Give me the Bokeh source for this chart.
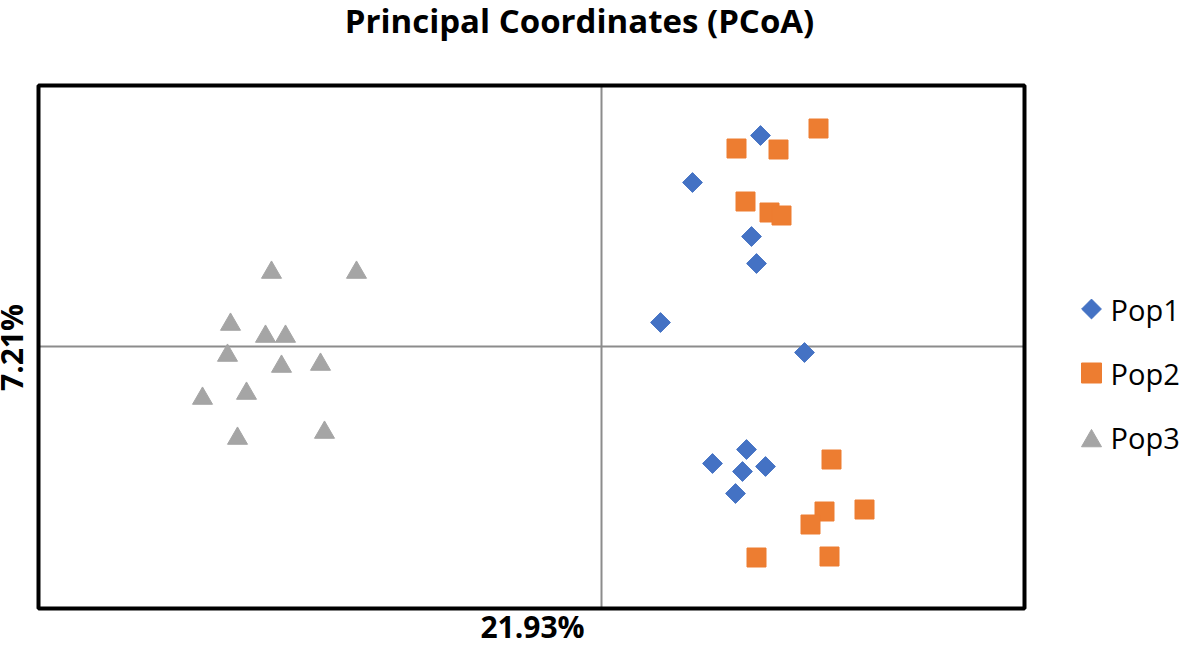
import math
from bokeh.plotting import figure
from bokeh.models import Range1d, Label
from bokeh.core.properties import value
from bokeh.embed import file_html
from bokeh.resources import INLINE

# PCoA coordinates (axis 1: 21.93 %, axis 2: 7.21 %)
pop1_x = [1.59, 0.91, 1.50, 1.55, 0.59, 2.03, 1.11, 1.45, 1.41, 1.64, 1.34]
pop1_y = [2.11, 1.64, 1.10, 0.83, 0.24, -0.06, -1.17, -1.03, -1.25, -1.20, -1.47]

pop2_x = [2.17, 1.35, 1.77, 1.44, 1.68, 1.80, 2.30, 2.23, 2.63, 2.09, 1.55, 2.28]
pop2_y = [2.18, 1.98, 1.97, 1.45, 1.34, 1.31, -1.13, -1.65, -1.63, -1.78, -2.11, -2.10]

pop3_x = [-3.30, -2.45, -3.71, -3.36, -3.16, -3.74, -3.20, -2.81, -3.99, -3.55, -3.64, -2.77]
pop3_y = [0.74, 0.74, 0.22, 0.10, 0.10, -0.09, -0.20, -0.18, -0.52, -0.47, -0.92, -0.86]

# plot-area limits of the chart
x_min, x_max = -5.63, 4.23
y_min, y_max = -2.62, 2.61

series_names = ["Pop1", "Pop2", "Pop3"]
title_text = "Principal Coordinates (PCoA)"
x_label = "21.93%"
y_label = "7.21%"

FONT = "Open Sans"
BLUE, ORANGE, GRAY = "#4472C4", "#ED7D31", "#A5A5A5"
W, H = 1181, 648

p = figure(width=W, height=H, output_backend="svg", toolbar_location=None,
           x_range=Range1d(-6.01, -6.01 + W / 100), y_range=Range1d(3.46 - H / 100, 3.46),
           x_axis_location=None, y_axis_location=None,
           min_border=0, min_border_left=0, min_border_right=0,
           min_border_top=0, min_border_bottom=0)
p.title.visible = False
p.xgrid.visible = False
p.ygrid.visible = False
p.outline_line_color = None
p.background_fill_color = "white"
p.border_fill_color = "white"

# axes through the origin
p.segment(x0=[0, x_min], y0=[y_min, 0], x1=[0, x_max], y1=[y_max, 0],
          line_color="#8c8c8c", line_width=2)
# plot-area border
p.quad(left=[x_min], right=[x_max], bottom=[y_min], top=[y_max],
       fill_color=None, line_color="black", line_width=4)

p.scatter(pop1_x, pop1_y, marker="square", size=14, angle=math.pi / 4,
          fill_color=BLUE, line_color=BLUE)
p.scatter(pop2_x, pop2_y, marker="square", size=19,
          fill_color=ORANGE, line_color=ORANGE)
p.scatter(pop3_x, pop3_y, marker="triangle", size=20,
          fill_color=GRAY, line_color=GRAY)

# legend (right of the plot area): symbol column and label column
leg_sym_x = 4.90
leg_txt_x = 5.09
leg_rows = [0.375, -0.265, -0.91]
p.scatter([leg_sym_x], [leg_rows[0]], marker="square", size=14, angle=math.pi / 4,
          fill_color=BLUE, line_color=BLUE)
p.scatter([leg_sym_x], [leg_rows[1]], marker="square", size=20,
          fill_color=ORANGE, line_color=ORANGE)
p.scatter([leg_sym_x], [leg_rows[2] - 0.035], marker="triangle", size=20,
          fill_color=GRAY, line_color=GRAY)
p.text(x=[leg_txt_x] * 3, y=leg_rows, text=series_names, text_align="left",
       text_baseline="middle", text_font=value(FONT), text_font_size="29px",
       text_color="black")

p.add_layout(Label(x=-0.22, y=3.26, text=title_text, text_align="center",
                   text_baseline="alphabetic", text_font=FONT,
                   text_font_size="33px", text_font_style="bold", text_color="black"))
p.add_layout(Label(x=-0.69, y=-2.80, text=x_label, text_align="center",
                   text_baseline="alphabetic", text_font=FONT,
                   text_font_size="30px", text_font_style="bold", text_color="black"))
p.add_layout(Label(x=-5.90, y=-0.01, text=y_label, angle=math.pi / 2, text_align="center",
                   text_baseline="alphabetic", text_font=FONT,
                   text_font_size="30px", text_font_style="bold", text_color="black"))

open("out.html", "w").write(file_html(p, INLINE))
